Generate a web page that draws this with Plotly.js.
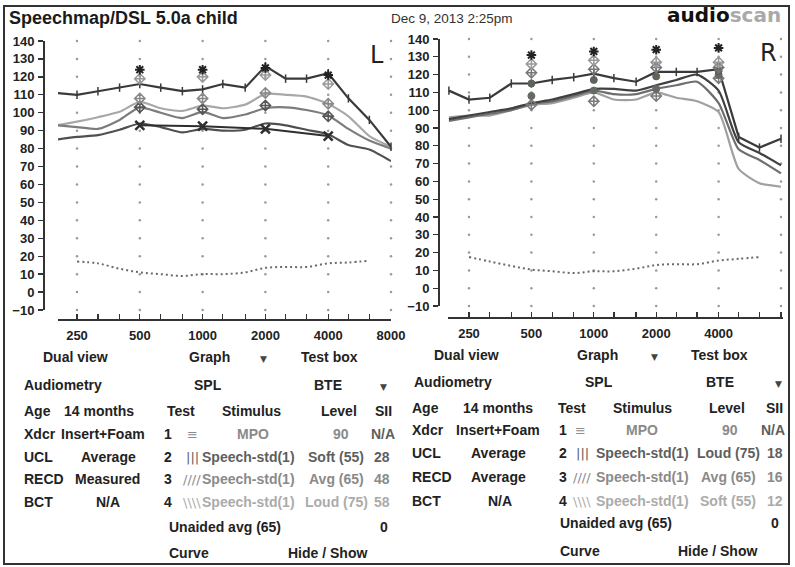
<!DOCTYPE html>
<html><head><meta charset="utf-8">
<script src="https://cdn.plot.ly/plotly-3.0.1.min.js"></script>
<style>html,body{margin:0;padding:0;background:#fff}#chart{width:795px;height:567px}</style>
</head><body><div id="chart"></div>
<script>
// ---------- data ----------
const freqs = [200,250,315,400,500,630,800,1000,1250,1600,2000,2500,3150,4000,5000,6300,8000];
const audFreqs = [500,1000,2000,4000];
const threshFreqs = [250,315,400,500,630,800,1000,1250,1600,2000,2500,3150,4000,5000,6300];

// Left ear
const L_mpo  = [111,110,112,114,116,114,112,113,116,114,126,119,119,122,108,96,81];
const L_loud = [93,95,97.5,100.5,106,102.5,101,104,102.5,104.5,110.5,110,109,105,98,87,81];
const L_avg  = [93,92,91,96,103,100,97,100.5,97,99,102.5,103,101.5,98.5,91,84.5,80];
const L_soft = [85,86.5,87.5,90.5,94,92,89,91,90,90.5,94,93,90.5,88,82,79.5,73];
const L_thresh = [17,16,13,11,10,9,10,10,11,13.5,14,14,16,16.5,17.5];
const L_mpoTarget  = [124,124,125,121];
const L_loudTarget = [119,120,121,116];
const L_avgTarget  = [108,108,111,105];
const L_softTarget = [103,102,104,98];
const L_xLine      = [93,92.5,91,87];

// Right ear
const R_mpo  = [111,106,107,115,115,117,118.5,120.5,118,116,121.5,121.5,121.5,123,85,79,84];
const R_loud = [95,97,99,101,104,106,109,112,112,111,114,117,120,111,82,76,69];
const R_avg  = [94,96,98,100,103.5,105,108,111,109,109,112,114,116,104,78,72,64.5];
const R_soft = [96,97,97,100,103,104,107,110,106,106,110,107,105,99,67,59,57];
const R_thresh = [17.5,15,12.5,10.5,9.5,8.5,9.5,9.5,11,13,13.5,13.5,15.5,16.5,17.5];
const R_mpoTarget  = [131,133,134,135];
const R_loudTarget = [126,128,127,127];
const R_avgTarget  = [121,123,124,124];
const R_softTarget = [115,117,119,122];
const R_extraA     = [108,111,112,120];
const R_extraB     = [103,105,108,118];

// ticks
const xTickVals = [200,250,315,400,500,630,800,1000,1250,1600,2000,2500,3150,4000,5000,6300,8000];
const xTickText = ['','250','','','500','','','1000','','','2000','','','4000','','','8000'];
const gridFreqs = [250,500,1000,2000,4000,8000];
const yTickVals = [-10,0,10,20,30,40,50,60,70,80,90,100,110,120,130,140];

// ---------- helpers ----------
const W = 795, H = 567;
const px = x => x / W;
const py = y => 1 - y / H;
const FONT = 'Liberation Sans, Arial, sans-serif';

function gridTrace(xa, ya) {
  const gx = [], gy = [];
  gridFreqs.forEach(f => yTickVals.forEach(v => { gx.push(f); gy.push(v); }));
  return {x: gx, y: gy, xaxis: xa, yaxis: ya, mode: 'markers', type: 'scatter',
    marker: {size: 2.5, color: '#9a9a9a'}, hoverinfo: 'skip', cliponaxis: false, showlegend: false};
}
function line(xa, ya, y, color, width, opts) {
  return Object.assign({x: freqs, y: y, xaxis: xa, yaxis: ya, type: 'scatter', mode: 'lines',
    line: {color: color, width: width, shape: 'spline', smoothing: 0.6}, showlegend: false, cliponaxis: false}, opts || {});
}
function targets(xa, ya, y, symbol, color, size, lw) {
  return {x: audFreqs, y: y, xaxis: xa, yaxis: ya, type: 'scatter', mode: 'markers',
    marker: {symbol: symbol, size: size, color: color, line: {color: color, width: lw}},
    showlegend: false, cliponaxis: false};
}
function thresh(xa, ya, y) {
  return {x: threshFreqs, y: y, xaxis: xa, yaxis: ya, type: 'scatter', mode: 'lines',
    line: {color: '#6a6a6a', width: 2, dash: '2px,3px', shape: 'spline'}, showlegend: false};
}

const traces = [
  gridTrace('x', 'y'),
  thresh('x', 'y', L_thresh),
  line('x', 'y', L_loud, '#a8a8a8', 2.2),
  line('x', 'y', L_avg, '#7c7c7c', 2.2),
  line('x', 'y', L_soft, '#505050', 2.2),
  {x: audFreqs, y: L_xLine, xaxis: 'x', yaxis: 'y', type: 'scatter', mode: 'lines+markers',
   line: {color: '#2e2e2e', width: 2}, marker: {symbol: 'x-thin-open', size: 9, line: {color: '#222', width: 2.5}}, showlegend: false},
  line('x', 'y', L_mpo, '#3a3a3a', 2.2, {mode: 'lines+markers', line: {color: '#3a3a3a', width: 2.2},
       marker: {symbol: 'line-ns-open', size: 6, line: {color: '#3a3a3a', width: 1.5}}}),
  targets('x', 'y', L_softTarget, 'diamond-cross-open', '#555', 8, 1.5),
  targets('x', 'y', L_avgTarget, 'diamond-cross-open', '#888', 8, 1.5),
  targets('x', 'y', L_loudTarget, 'diamond-cross-open', '#999', 8, 1.5),
  targets('x', 'y', L_mpoTarget, 'asterisk-open', '#222', 8, 2),

  gridTrace('x2', 'y2'),
  thresh('x2', 'y2', R_thresh),
  line('x2', 'y2', R_soft, '#a0a0a0', 2.2),
  line('x2', 'y2', R_avg, '#6e6e6e', 2.2),
  line('x2', 'y2', R_loud, '#404040', 2.2),
  line('x2', 'y2', R_mpo, '#3a3a3a', 2.2, {mode: 'lines+markers', line: {color: '#3a3a3a', width: 2.2},
       marker: {symbol: 'line-ns-open', size: 6, line: {color: '#3a3a3a', width: 1.5}}}),
  targets('x2', 'y2', R_extraB, 'diamond-cross-open', '#7a7a7a', 8, 1.5),
  targets('x2', 'y2', R_extraA, 'circle', '#646b60', 7, 1),
  targets('x2', 'y2', R_softTarget, 'circle', '#5c6558', 7, 1),
  targets('x2', 'y2', R_avgTarget, 'diamond-cross-open', '#777', 8, 1.5),
  targets('x2', 'y2', R_loudTarget, 'diamond-cross-open', '#999', 8, 1.5),
  targets('x2', 'y2', R_mpoTarget, 'asterisk-open', '#222', 8, 2)
];

const tickFont = {family: FONT, size: 13, color: '#222', weight: 'bold'};
function xAxis(d0, d1, r0, r1, pos) {
  return {type: 'log', domain: [px(d0), px(d1)], range: [r0, r1], anchor: 'free', position: py(pos),
    showline: true, linecolor: '#333', linewidth: 1.5, ticks: 'inside', ticklen: 5, tickwidth: 1.3, tickcolor: '#333',
    tickmode: 'array', tickvals: xTickVals, ticktext: xTickText, tickfont: tickFont,
    showgrid: false, zeroline: false, fixedrange: true, ticklabelstandoff: 4};
}
function yAxis(top, bot, pos) {
  return {domain: [py(bot), py(top)], range: [-10, 140], anchor: 'free', position: px(pos),
    showline: true, linecolor: '#333', linewidth: 1.5, ticks: 'outside', ticklen: 5, tickwidth: 1.3, tickcolor: '#333',
    tickmode: 'array', tickvals: yTickVals, tickfont: tickFont,
    showgrid: false, zeroline: false, fixedrange: true, ticklabelstandoff: 1};
}

// ---------- table text ----------
const DK = '#222', G2 = '#5e5e5e', G3 = '#8a8a8a', G4 = '#ababab';
const tableL = [
  [75,357,'Dual view','center',DK],[209,357,'Graph','center',DK],[329,357,'Test box','center',DK],
  [22,385,'Audiometry','left',DK],[208,385,'SPL','center',DK],[328,385,'BTE','center',DK],
  [22,411,'Age','left',DK],[99,411,'14 months','center',DK],[181,411,'Test','center',DK],[251,411,'Stimulus','center',DK],[339,411,'Level','center',DK],[383,411,'SII','center',DK],
  [22,434,'Xdcr','left',DK],[103,434,'Insert+Foam','center',DK],[168,434,'1','center',DK],[253,434,'MPO','center',G3],[341,434,'90','center',G3],[383,434,'N/A','center',G2],
  [22,457,'UCL','left',DK],[108,457,'Average','center',DK],[168,457,'2','center',DK],[248,457,'Speech-std(1)','center',G2],[336,457,'Soft (55)','center',G2],[382,457,'28','center',G2],
  [22,479,'RECD','left',DK],[107,479,'Measured','center',DK],[168,479,'3','center',DK],[248,479,'Speech-std(1)','center',G3],[336,479,'Avg (65)','center',G3],[382,479,'48','center',G3],
  [22,502,'BCT','left',DK],[108,502,'N/A','center',DK],[168,502,'4','center',DK],[248,502,'Speech-std(1)','center',G4],[336,502,'Loud (75)','center',G4],[382,502,'58','center',G4],
  [167,527,'Unaided avg (65)','left',DK],[384,527,'0','center',DK],
  [167,553,'Curve','left',DK],[327,553,'Hide / Show','center',DK]
];
const tableR = [
  [466,355,'Dual view','center',DK],[597,355,'Graph','center',DK],[719,355,'Test box','center',DK],
  [412,382,'Audiometry','left',DK],[599,382,'SPL','center',DK],[720,382,'BTE','center',DK],
  [410,408,'Age','left',DK],[498,408,'14 months','center',DK],[572,408,'Test','center',DK],[642,408,'Stimulus','center',DK],[727,408,'Level','center',DK],[774,408,'SII','center',DK],
  [410,430,'Xdcr','left',DK],[498,430,'Insert+Foam','center',DK],[563,430,'1','center',DK],[642,430,'MPO','center',G3],[730,430,'90','center',G3],[773,430,'N/A','center',G2],
  [410,453,'UCL','left',DK],[498,453,'Average','center',DK],[563,453,'2','center',DK],[642,453,'Speech-std(1)','center',G2],[728,453,'Loud (75)','center',G2],[775,453,'18','center',G2],
  [410,477,'RECD','left',DK],[498,477,'Average','center',DK],[563,477,'3','center',DK],[642,477,'Speech-std(1)','center',G3],[728,477,'Avg (65)','center',G3],[775,477,'16','center',G3],
  [410,501,'BCT','left',DK],[500,501,'N/A','center',DK],[563,501,'4','center',DK],[642,501,'Speech-std(1)','center',G4],[728,501,'Soft (55)','center',G4],[775,501,'12','center',G4],
  [558,523,'Unaided avg (65)','left',DK],[775,523,'0','center',DK],
  [558,551,'Curve','left',DK],[717,551,'Hide / Show','center',DK]
];
const icons = [
  [192,434,'≡',G3],[192,457,'|||',G2],[192,479,'////',G3],[192,502,'\\\\\\\\',G4],
  [580,430,'≡',G3],[582,453,'|||',G2],[582,477,'////',G3],[582,501,'\\\\\\\\',G4]
];
const arrows = [[263,359],[383,387],[654,357],[778,384]];

const annotations = [];
function ann(x, y, text, anchor, color, size, family, extra) {
  annotations.push(Object.assign({xref: 'paper', yref: 'paper', x: px(x), y: py(y), text: text,
    xanchor: anchor, yanchor: 'middle', showarrow: false,
    font: {family: family || FONT, size: size || 14, color: color}}, extra || {}));
}
tableL.concat(tableR).forEach(r => ann(r[0], r[1], '<b>' + r[2] + '</b>', r[3], r[4]));
icons.forEach(r => ann(r[0], r[1], r[2], 'center', r[3], 13, 'DejaVu Sans'));
arrows.forEach(r => ann(r[0], r[1], '▼', 'center', '#444', 9, 'DejaVu Sans'));

// header
ann(7, 18, '<b>Speechmap/DSL 5.0a child</b>', 'left', '#1a1a1a', 18);
ann(389, 18, 'Dec 9, 2013 2:25pm', 'left', '#333', 13.5);
ann(783, 15, '<b>audio<span style="color:#a9a9a9">scan</span></b>', 'right', '#111', 20, 'DejaVu Sans');
ann(377, 55, 'L', 'center', '#222', 24, 'DejaVu Sans');
ann(768, 53, 'R', 'center', '#222', 24, 'DejaVu Sans');

const layout = {
  width: W, height: H, margin: {l: 0, r: 0, t: 0, b: 0},
  paper_bgcolor: '#ffffff', plot_bgcolor: 'rgba(0,0,0,0)', showlegend: false,
  xaxis: xAxis(58, 391, Math.log10(250) - 19 / 208.6, Math.log10(8000), 319),
  yaxis: yAxis(41, 310, 43),
  xaxis2: xAxis(448, 783, Math.log10(250) - 21 / 207.3, Math.log10(8000) + 2 / 207.3, 317),
  yaxis2: yAxis(39, 306, 438),
  annotations: annotations,
  shapes: [
    {type: 'rect', xref: 'paper', yref: 'paper', x0: px(4), x1: px(789), y0: py(564), y1: py(6),
     line: {color: '#333', width: 2}, fillcolor: 'rgba(0,0,0,0)'}
  ]
};

Plotly.newPlot('chart', traces, layout, {displayModeBar: false, staticPlot: true});
</script></body></html>
